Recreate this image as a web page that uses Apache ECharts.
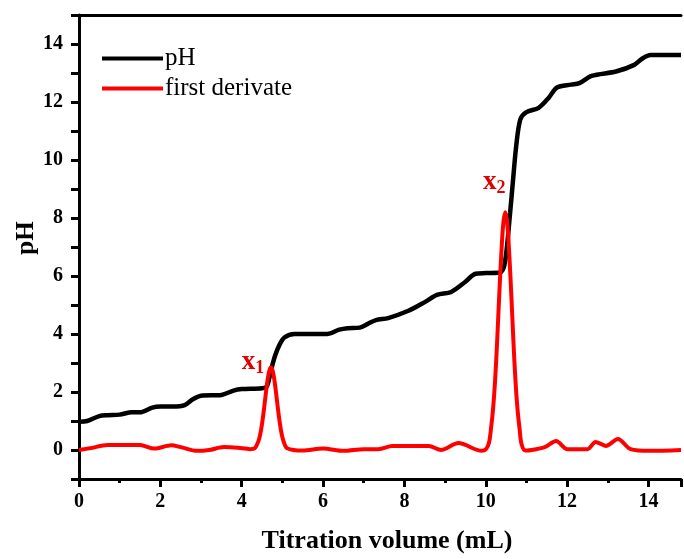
<!DOCTYPE html>
<html>
<head>
<meta charset="utf-8">
<script src="https://cdn.jsdelivr.net/npm/echarts@6/dist/echarts.min.js"></script>
<style>html,body{margin:0;padding:0;background:#fff}#c{width:684px;height:559px}</style>
</head>
<body>
<div id="c"></div>
<script>
// Titration volume (mL) and pH readings
const phVolume = [0, 0.2, 0.5, 0.7, 1.0, 1.3, 1.5, 1.8, 2.0, 2.3, 2.6, 2.8, 3.0, 3.5, 3.8, 4.0, 4.5, 4.62, 4.72, 4.82, 4.92, 5.05, 5.3, 6.1, 6.4, 6.6, 6.9, 7.1, 7.3, 7.6, 8.1, 8.5, 8.8, 9.15, 9.5, 9.75, 10.0, 10.35, 10.47, 10.6, 10.67, 10.75, 10.85, 11.0, 11.3, 11.55, 11.75, 12.1, 12.3, 12.6, 13.2, 13.65, 13.85, 14.05, 14.8];
const phValues = [0.97, 1.0, 1.17, 1.2, 1.22, 1.3, 1.3, 1.46, 1.5, 1.5, 1.55, 1.75, 1.87, 1.9, 2.05, 2.1, 2.13, 2.2, 2.75, 3.25, 3.6, 3.88, 4.0, 4.0, 4.15, 4.2, 4.22, 4.35, 4.48, 4.55, 4.8, 5.1, 5.35, 5.45, 5.8, 6.08, 6.1, 6.12, 6.45, 8.2, 9.3, 10.5, 11.4, 11.65, 11.8, 12.15, 12.5, 12.6, 12.65, 12.9, 13.05, 13.28, 13.5, 13.62, 13.62];

// First derivative readings (volume / value, aligned)
const derVolume = [
  0, 0.3, 0.7, 1.0, 1.5, 1.85, 2.27, 2.5, 2.9, 3.2, 3.56, 3.9, 4.2,
  4.32, 4.42, 4.47, 4.52, 4.57, 4.62, 4.67, 4.72, 4.77, 4.82, 4.87, 4.92, 4.97, 5.02, 5.12,
  5.5, 6.0, 6.5, 7.0, 7.36, 7.7, 8.6, 8.9, 9.33, 9.9,
  10.0, 10.08, 10.13, 10.18, 10.23, 10.28, 10.33, 10.38, 10.43, 10.48, 10.53, 10.58, 10.63, 10.68, 10.73, 10.78, 10.83, 10.88, 10.98,
  11.2, 11.45, 11.73, 12.0, 12.5, 12.7, 12.95, 13.25, 13.56, 14.05, 14.8
];
const derValues = [
  0.0, 0.07, 0.17, 0.17, 0.17, 0.05, 0.16, 0.1, -0.03, 0.0, 0.1, 0.08, 0.03,
  0.06, 0.34, 0.64, 1.1, 1.67, 2.25, 2.68, 2.85, 2.68, 2.25, 1.67, 1.1, 0.64, 0.34, 0.06,
  -0.02, 0.05, -0.03, 0.03, 0.03, 0.14, 0.14, 0.0, 0.24, -0.03,
  0.02, 0.25, 0.75, 1.42, 2.4, 3.75, 5.3, 6.7, 7.8, 8.2, 7.8, 6.7, 5.3, 3.75, 2.4, 1.42, 0.75, 0.2, -0.02,
  0.02, 0.1, 0.31, 0.03, 0.03, 0.28, 0.14, 0.38, 0.03, -0.03, 0.0
];

const xTicks = [0, 2, 4, 6, 8, 10, 12, 14];
const yTicks = [0, 2, 4, 6, 8, 10, 12, 14];
const seriesNames = ['pH', 'first derivate'];
const annotationSubs = ['1', '2'];
const annotationX = [4.28, 10.21];
const annotationY = [3.03, 9.24];

const serif = '"Liberation Serif", "Times New Roman", serif';
const chart = echarts.init(document.getElementById('c'), null, {renderer: 'canvas'});

const phData = phVolume.map((v, i) => [v, phValues[i]]);
const derData = derVolume.map((v, i) => [v, derValues[i]]);

const axisLineStyle = {color: '#000', width: 3};

chart.setOption({
  animation: false,
  backgroundColor: '#fff',
  grid: {left: 79, top: 15, right: 0, bottom: 78},
  legend: {
    orient: 'vertical',
    left: 97,
    top: 41,
    icon: 'rect',
    itemWidth: 61,
    itemHeight: 4,
    itemGap: 5,
    data: seriesNames,
    textStyle: {fontFamily: serif, fontSize: 25, color: '#000', lineHeight: 25, padding: [0, 0, 0, -3]}
  },
  xAxis: [{
    type: 'value',
    min: 0,
    max: 14.8,
    interval: 2,
    name: 'Titration volume (mL)',
    nameLocation: 'middle',
    nameGap: 49,
    nameMoveOverlap: false,
    nameTextStyle: {fontFamily: serif, fontSize: 26, fontWeight: 'bold', color: '#000', padding: [0, 0, 0, 14]},
    axisLine: {show: true, onZero: false, lineStyle: axisLineStyle},
    axisTick: {show: true, length: 8, lineStyle: {color: '#000', width: 3}},
    minorTick: {show: true, splitNumber: 2, length: 4, lineStyle: {color: '#000', width: 3}},
    splitLine: {show: false},
    axisLabel: {
      margin: 13,
      fontFamily: serif, fontSize: 20, fontWeight: 'bold', color: '#000',
      formatter: v => (xTicks.indexOf(v) >= 0 ? String(v) : '')
    }
  }, {
    type: 'value',
    position: 'top',
    min: 0,
    max: 14.8,
    axisLine: {show: true, onZero: false, lineStyle: axisLineStyle},
    axisTick: {show: false},
    axisLabel: {show: false},
    splitLine: {show: false}
  }],
  yAxis: {
    type: 'value',
    min: -1,
    max: 15,
    interval: 1,
    name: 'pH',
    nameLocation: 'middle',
    nameGap: 40,
    nameMoveOverlap: false,
    nameTextStyle: {fontFamily: serif, fontSize: 25, fontWeight: 'bold', color: '#000', padding: [0, 0, 0, 18]},
    axisLine: {show: true, onZero: false, lineStyle: axisLineStyle},
    axisTick: {show: true, length: 8, lineStyle: {color: '#000', width: 3}},
    splitLine: {show: false},
    axisLabel: {
      margin: 16,
      fontFamily: serif, fontSize: 20, fontWeight: 'bold', color: '#000',
      formatter: v => (yTicks.indexOf(v) >= 0 ? String(v) : '')
    }
  },
  series: [{
    name: seriesNames[0],
    type: 'line',
    data: phData,
    showSymbol: false,
    symbol: 'none',
    smooth: 0.3,
    lineStyle: {color: '#000', width: 4.5},
    itemStyle: {color: '#000'},
    z: 2
  }, {
    name: seriesNames[1],
    type: 'line',
    data: derData,
    showSymbol: false,
    symbol: 'none',
    smooth: 0.3,
    lineStyle: {color: '#ff0000', width: 4},
    itemStyle: {color: '#ff0000'},
    z: 3,
    markPoint: {
      symbol: 'circle',
      symbolSize: 0,
      label: {
        show: true,
        position: 'inside',
        formatter: p => '{x|x}{s|' + p.data.sub + '}',
        rich: {
          x: {fontFamily: serif, fontSize: 27, fontWeight: 'bold', color: '#e00000'},
          s: {fontFamily: serif, fontSize: 18, fontWeight: 'bold', color: '#e00000', padding: [12, 0, 0, 0]}
        }
      },
      data: annotationSubs.map((s, i) => ({sub: s, coord: [annotationX[i], annotationY[i]]}))
    }
  }]
});
</script>
</body>
</html>
